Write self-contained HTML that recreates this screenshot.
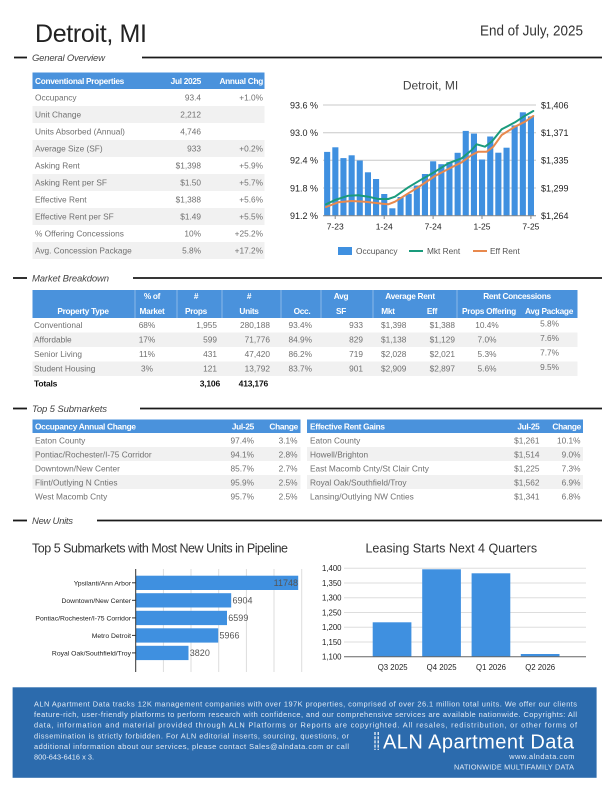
<!DOCTYPE html>
<html><head><meta charset="utf-8"><style>
html,body{margin:0;padding:0;background:#fff;}
svg{display:block;}
text{font-family:"Liberation Sans",sans-serif;}
.sec{font-style:italic;font-size:9.5px;fill:#444;}
.th{font-weight:bold;font-size:8.3px;fill:#fff;letter-spacing:-0.3px;}
.td{font-size:8.3px;fill:#707070;}
.ax{font-size:9px;fill:#222;}
.lg{font-size:8.3px;fill:#555;}
.ft{font-size:7.4px;fill:#e4ecf6;}
</style></head><body>
<svg width="612" height="792" viewBox="0 0 612 792" xmlns="http://www.w3.org/2000/svg">
<rect width="612" height="792" fill="#fff"/>

<!-- Header -->
<text x="35" y="42" font-size="25" fill="#222" textLength="112">Detroit, MI</text>
<text x="480" y="35.5" font-size="15" fill="#333" textLength="103" lengthAdjust="spacingAndGlyphs">End of July, 2025</text>

<!-- Section: General Overview -->
<line x1="14" y1="57.5" x2="27" y2="57.5" stroke="#1a1a1a" stroke-width="1.8"/>
<text class="sec" x="32" y="61" textLength="73">General Overview</text>
<line x1="142" y1="57.5" x2="602" y2="57.5" stroke="#1a1a1a" stroke-width="1.8"/>

<!-- General overview table -->
<rect x="32.5" y="72.5" width="232" height="16.5" fill="#4a92dc"/>
<text class="th" x="35" y="83.8">Conventional Properties</text>
<text class="th" x="201" y="83.8" text-anchor="end">Jul 2025</text>
<text class="th" x="263" y="83.8" text-anchor="end">Annual Chg</text>
<rect x="32.5" y="106" width="232" height="17" fill="#f1f1f1"/>
<rect x="32.5" y="140" width="232" height="17" fill="#f1f1f1"/>
<rect x="32.5" y="174" width="232" height="17" fill="#f1f1f1"/>
<rect x="32.5" y="208" width="232" height="17" fill="#f1f1f1"/>
<rect x="32.5" y="242" width="232" height="17" fill="#f1f1f1"/>
<g class="td">
<text x="35" y="100.5">Occupancy</text><text x="201" y="100.5" text-anchor="end">93.4</text><text x="263" y="100.5" text-anchor="end">+1.0%</text>
<text x="35" y="117.5">Unit Change</text><text x="201" y="117.5" text-anchor="end">2,212</text>
<text x="35" y="134.5">Units Absorbed (Annual)</text><text x="201" y="134.5" text-anchor="end">4,746</text>
<text x="35" y="151.5">Average Size (SF)</text><text x="201" y="151.5" text-anchor="end">933</text><text x="263" y="151.5" text-anchor="end">+0.2%</text>
<text x="35" y="168.5">Asking Rent</text><text x="201" y="168.5" text-anchor="end">$1,398</text><text x="263" y="168.5" text-anchor="end">+5.9%</text>
<text x="35" y="185.5">Asking Rent per SF</text><text x="201" y="185.5" text-anchor="end">$1.50</text><text x="263" y="185.5" text-anchor="end">+5.7%</text>
<text x="35" y="202.5">Effective Rent</text><text x="201" y="202.5" text-anchor="end">$1,388</text><text x="263" y="202.5" text-anchor="end">+5.6%</text>
<text x="35" y="219.5">Effective Rent per SF</text><text x="201" y="219.5" text-anchor="end">$1.49</text><text x="263" y="219.5" text-anchor="end">+5.5%</text>
<text x="35" y="236.5">% Offering Concessions</text><text x="201" y="236.5" text-anchor="end">10%</text><text x="263" y="236.5" text-anchor="end">+25.2%</text>
<text x="35" y="253.5">Avg. Concession Package</text><text x="201" y="253.5" text-anchor="end">5.8%</text><text x="263" y="253.5" text-anchor="end">+17.2%</text>
</g>

<!-- Chart 1 -->
<text x="430.5" y="89.3" font-size="12" fill="#444" text-anchor="middle">Detroit, MI</text>
<g stroke="#c8c8c8" stroke-width="1">
<line x1="323" y1="105" x2="536" y2="105"/>
<line x1="323" y1="132.7" x2="536" y2="132.7"/>
<line x1="323" y1="160.3" x2="536" y2="160.3"/>
<line x1="323" y1="188" x2="536" y2="188"/>
</g>
<g fill="#3f90e0">
<rect x="324.1" y="151.9" width="6.1" height="63.8"/>
<rect x="332.3" y="147.3" width="6.1" height="68.4"/>
<rect x="340.4" y="158.1" width="6.1" height="57.6"/>
<rect x="348.6" y="155.3" width="6.1" height="60.4"/>
<rect x="356.7" y="160.5" width="6.1" height="55.2"/>
<rect x="364.9" y="172.3" width="6.1" height="43.4"/>
<rect x="373.0" y="179" width="6.1" height="36.7"/>
<rect x="381.2" y="194" width="6.1" height="21.7"/>
<rect x="389.3" y="208.3" width="6.1" height="7.4"/>
<rect x="397.5" y="197" width="6.1" height="18.7"/>
<rect x="405.6" y="193.9" width="6.1" height="21.8"/>
<rect x="413.8" y="185.5" width="6.1" height="30.2"/>
<rect x="421.9" y="174" width="6.1" height="41.7"/>
<rect x="430.1" y="161.3" width="6.1" height="54.4"/>
<rect x="438.3" y="164.2" width="6.1" height="51.5"/>
<rect x="446.4" y="162.2" width="6.1" height="53.5"/>
<rect x="454.6" y="152.8" width="6.1" height="62.9"/>
<rect x="462.7" y="130.9" width="6.1" height="84.8"/>
<rect x="470.9" y="133.6" width="6.1" height="82.1"/>
<rect x="479.0" y="159.5" width="6.1" height="56.2"/>
<rect x="487.2" y="136.5" width="6.1" height="79.2"/>
<rect x="495.3" y="152.7" width="6.1" height="63"/>
<rect x="503.5" y="147.7" width="6.1" height="68"/>
<rect x="511.6" y="125.4" width="6.1" height="90.3"/>
<rect x="519.8" y="112.3" width="6.1" height="103.4"/>
<rect x="527.9" y="116.4" width="6.1" height="99.3"/>
</g>
<line x1="323" y1="215.7" x2="536" y2="215.7" stroke="#888" stroke-width="1"/>
<g stroke="#888" stroke-width="1">
<line x1="335.2" y1="215.7" x2="335.2" y2="219"/>
<line x1="384.2" y1="215.7" x2="384.2" y2="219"/>
<line x1="433.1" y1="215.7" x2="433.1" y2="219"/>
<line x1="482" y1="215.7" x2="482" y2="219"/>
<line x1="530.9" y1="215.7" x2="530.9" y2="219"/>
</g>
<polyline fill="none" stroke="#e8894d" stroke-width="2" stroke-linejoin="round" stroke-linecap="round" points="326,207 338.3,202.3 351.7,201 365,201.7 378.3,203.3 388.3,204.3 395,201.7 408.3,193.3 421.7,185 435,176 448.3,169 461.7,162.3 471.7,155 478.3,151.7 486.7,151.7 493.3,146.7 501.7,135 515,126.7 525,121.7 533.3,116"/>
<polyline fill="none" stroke="#1a9b7c" stroke-width="2" stroke-linejoin="round" stroke-linecap="round" points="326,204.3 335,200 348.3,195.7 358.3,195.3 368.3,196.7 378.3,199 388.3,199 395,196.7 408.3,187.3 421.7,179.3 435,171.7 448.3,163.3 461.7,158.3 471.7,150 476.7,144.3 485,146.7 491.7,141.7 501.7,129.3 515,122.3 525,115.7 533.3,111"/>
<g class="ax">
<text x="318" y="108.3" text-anchor="end">93.6 %</text>
<text x="318" y="136" text-anchor="end">93.0 %</text>
<text x="318" y="163.6" text-anchor="end">92.4 %</text>
<text x="318" y="191.3" text-anchor="end">91.8 %</text>
<text x="318" y="219" text-anchor="end">91.2 %</text>
<text x="541" y="108.3">$1,406</text>
<text x="541" y="136">$1,371</text>
<text x="541" y="163.6">$1,335</text>
<text x="541" y="191.3">$1,299</text>
<text x="541" y="219">$1,264</text>
<text x="335.2" y="229.5" text-anchor="middle" font-size="8.5">7-23</text>
<text x="384.2" y="229.5" text-anchor="middle" font-size="8.5">1-24</text>
<text x="433.1" y="229.5" text-anchor="middle" font-size="8.5">7-24</text>
<text x="482" y="229.5" text-anchor="middle" font-size="8.5">1-25</text>
<text x="530.9" y="229.5" text-anchor="middle" font-size="8.5">7-25</text>
</g>
<rect x="338" y="247" width="14" height="8" fill="#3f90e0"/>
<text class="lg" x="356" y="254">Occupancy</text>
<line x1="409" y1="251" x2="423" y2="251" stroke="#1a9b7c" stroke-width="2"/>
<text class="lg" x="427" y="254">Mkt Rent</text>
<line x1="473" y1="251" x2="487" y2="251" stroke="#e8894d" stroke-width="2"/>
<text class="lg" x="490" y="254">Eff Rent</text>

<!-- Section: Market Breakdown -->
<line x1="13" y1="278" x2="27" y2="278" stroke="#1a1a1a" stroke-width="1.8"/>
<text class="sec" x="32" y="281.5" textLength="77">Market Breakdown</text>
<line x1="133" y1="278" x2="602" y2="278" stroke="#1a1a1a" stroke-width="1.8"/>

<rect x="32.5" y="290" width="545" height="28" fill="#4a92dc"/>
<g stroke="#ffffff" stroke-opacity="0.35" stroke-width="1">
<line x1="135" y1="290" x2="135" y2="318"/>
<line x1="177" y1="290" x2="177" y2="318"/>
<line x1="222" y1="290" x2="222" y2="318"/>
<line x1="281" y1="290" x2="281" y2="318"/>
<line x1="321" y1="290" x2="321" y2="318"/>
<line x1="373" y1="290" x2="373" y2="318"/>
<line x1="457" y1="290" x2="457" y2="318"/>
</g>
<g class="th" text-anchor="middle">
<text x="152" y="299">% of</text>
<text x="196" y="299">#</text>
<text x="249" y="299">#</text>
<text x="341" y="299">Avg</text>
<text x="410" y="299">Average Rent</text>
<text x="517" y="299">Rent Concessions</text>
<text x="83" y="314">Property Type</text>
<text x="152" y="314">Market</text>
<text x="196" y="314">Props</text>
<text x="249" y="314">Units</text>
<text x="302" y="314">Occ.</text>
<text x="341" y="314">SF</text>
<text x="388" y="314">Mkt</text>
<text x="432" y="314">Eff</text>
<text x="489" y="314">Props Offering</text>
<text x="549" y="314">Avg Package</text>
</g>
<rect x="32.5" y="332.5" width="545" height="14.5" fill="#f1f1f1"/>
<rect x="32.5" y="361.5" width="545" height="14.5" fill="#f1f1f1"/>
<g class="td">
<text x="34" y="328">Conventional</text><text x="147" y="328" text-anchor="middle">68%</text><text x="217" y="328" text-anchor="end">1,955</text><text x="270" y="328" text-anchor="end">280,188</text><text x="312" y="328" text-anchor="end">93.4%</text><text x="363" y="328" text-anchor="end">933</text><text x="381" y="328">$1,398</text><text x="455" y="328" text-anchor="end">$1,388</text><text x="487" y="328" text-anchor="middle">10.4%</text><text x="559" y="326.5" text-anchor="end">5.8%</text>
<text x="34" y="342.5">Affordable</text><text x="147" y="342.5" text-anchor="middle">17%</text><text x="217" y="342.5" text-anchor="end">599</text><text x="270" y="342.5" text-anchor="end">71,776</text><text x="312" y="342.5" text-anchor="end">84.9%</text><text x="363" y="342.5" text-anchor="end">829</text><text x="381" y="342.5">$1,138</text><text x="455" y="342.5" text-anchor="end">$1,129</text><text x="487" y="342.5" text-anchor="middle">7.0%</text><text x="559" y="341" text-anchor="end">7.6%</text>
<text x="34" y="357">Senior Living</text><text x="147" y="357" text-anchor="middle">11%</text><text x="217" y="357" text-anchor="end">431</text><text x="270" y="357" text-anchor="end">47,420</text><text x="312" y="357" text-anchor="end">86.2%</text><text x="363" y="357" text-anchor="end">719</text><text x="381" y="357">$2,028</text><text x="455" y="357" text-anchor="end">$2,021</text><text x="487" y="357" text-anchor="middle">5.3%</text><text x="559" y="355.5" text-anchor="end">7.7%</text>
<text x="34" y="371.5">Student Housing</text><text x="147" y="371.5" text-anchor="middle">3%</text><text x="217" y="371.5" text-anchor="end">121</text><text x="270" y="371.5" text-anchor="end">13,792</text><text x="312" y="371.5" text-anchor="end">83.7%</text><text x="363" y="371.5" text-anchor="end">901</text><text x="381" y="371.5">$2,909</text><text x="455" y="371.5" text-anchor="end">$2,897</text><text x="487" y="371.5" text-anchor="middle">5.6%</text><text x="559" y="370" text-anchor="end">9.5%</text>
</g>
<g font-size="8.5" font-weight="bold" fill="#111" letter-spacing="-0.2">
<text x="34" y="386.5">Totals</text>
<text x="220" y="386.5" text-anchor="end">3,106</text>
<text x="268" y="386.5" text-anchor="end">413,176</text>
</g>

<!-- Section: Top 5 Submarkets -->
<line x1="13" y1="408.5" x2="27" y2="408.5" stroke="#1a1a1a" stroke-width="1.8"/>
<text class="sec" x="32" y="412" textLength="75">Top 5 Submarkets</text>
<line x1="140" y1="408.5" x2="602" y2="408.5" stroke="#1a1a1a" stroke-width="1.8"/>

<rect x="32.5" y="419.5" width="268" height="13.5" fill="#4a92dc"/>
<rect x="307" y="419.5" width="276" height="13.5" fill="#4a92dc"/>
<text class="th" x="35" y="429.3">Occupancy Annual Change</text>
<text class="th" x="254" y="429.3" text-anchor="end">Jul-25</text>
<text class="th" x="298" y="429.3" text-anchor="end">Change</text>
<text class="th" x="310" y="429.3">Effective Rent Gains</text>
<text class="th" x="539.5" y="429.3" text-anchor="end">Jul-25</text>
<text class="th" x="581" y="429.3" text-anchor="end">Change</text>
<rect x="32.5" y="447" width="268" height="14" fill="#f1f1f1"/>
<rect x="32.5" y="475" width="268" height="14" fill="#f1f1f1"/>
<rect x="307" y="447" width="276" height="14" fill="#f1f1f1"/>
<rect x="307" y="475" width="276" height="14" fill="#f1f1f1"/>
<g class="td">
<text x="35" y="443.7">Eaton County</text><text x="254" y="443.7" text-anchor="end">97.4%</text><text x="297.5" y="443.7" text-anchor="end">3.1%</text>
<text x="35" y="457.7">Pontiac/Rochester/I-75 Corridor</text><text x="254" y="457.7" text-anchor="end">94.1%</text><text x="297.5" y="457.7" text-anchor="end">2.8%</text>
<text x="35" y="471.7">Downtown/New Center</text><text x="254" y="471.7" text-anchor="end">85.7%</text><text x="297.5" y="471.7" text-anchor="end">2.7%</text>
<text x="35" y="485.7">Flint/Outlying N Cnties</text><text x="254" y="485.7" text-anchor="end">95.9%</text><text x="297.5" y="485.7" text-anchor="end">2.5%</text>
<text x="35" y="499.7">West Macomb Cnty</text><text x="254" y="499.7" text-anchor="end">95.7%</text><text x="297.5" y="499.7" text-anchor="end">2.5%</text>
<text x="310" y="443.7">Eaton County</text><text x="539.5" y="443.7" text-anchor="end">$1,261</text><text x="580.5" y="443.7" text-anchor="end">10.1%</text>
<text x="310" y="457.7">Howell/Brighton</text><text x="539.5" y="457.7" text-anchor="end">$1,514</text><text x="580.5" y="457.7" text-anchor="end">9.0%</text>
<text x="310" y="471.7">East Macomb Cnty/St Clair Cnty</text><text x="539.5" y="471.7" text-anchor="end">$1,225</text><text x="580.5" y="471.7" text-anchor="end">7.3%</text>
<text x="310" y="485.7">Royal Oak/Southfield/Troy</text><text x="539.5" y="485.7" text-anchor="end">$1,562</text><text x="580.5" y="485.7" text-anchor="end">6.9%</text>
<text x="310" y="499.7">Lansing/Outlying NW Cnties</text><text x="539.5" y="499.7" text-anchor="end">$1,341</text><text x="580.5" y="499.7" text-anchor="end">6.8%</text>
</g>

<!-- Section: New Units -->
<line x1="13" y1="520.5" x2="27" y2="520.5" stroke="#1a1a1a" stroke-width="1.8"/>
<text class="sec" x="32" y="524" textLength="41">New Units</text>
<line x1="97" y1="520.5" x2="602" y2="520.5" stroke="#1a1a1a" stroke-width="1.8"/>

<!-- Chart: Top 5 Submarkets pipeline -->
<text x="32" y="552.5" font-size="12.5" fill="#333" textLength="256">Top 5 Submarkets with Most New Units in Pipeline</text>
<g stroke="#dddddd" stroke-width="1">
<line x1="163.4" y1="569" x2="163.4" y2="672"/>
<line x1="191" y1="569" x2="191" y2="672"/>
<line x1="218.7" y1="569" x2="218.7" y2="672"/>
<line x1="246.4" y1="569" x2="246.4" y2="672"/>
<line x1="274" y1="569" x2="274" y2="672"/>
<line x1="301.7" y1="569" x2="301.7" y2="672"/>
</g>
<g fill="#3f90e0">
<rect x="136" y="575.7" width="162.2" height="14.3"/>
<rect x="136" y="593.2" width="95.2" height="14.3"/>
<rect x="136" y="610.8" width="91" height="14.3"/>
<rect x="136" y="628.3" width="82.2" height="14.3"/>
<rect x="136" y="645.8" width="52.5" height="14.3"/>
</g>
<line x1="135.7" y1="569" x2="135.7" y2="672" stroke="#333" stroke-width="1"/>
<g stroke="#333" stroke-width="1">
<line x1="132" y1="582.8" x2="135.7" y2="582.8"/>
<line x1="132" y1="600.3" x2="135.7" y2="600.3"/>
<line x1="132" y1="617.9" x2="135.7" y2="617.9"/>
<line x1="132" y1="635.4" x2="135.7" y2="635.4"/>
<line x1="132" y1="652.9" x2="135.7" y2="652.9"/>
</g>
<g font-size="6.8" fill="#222" text-anchor="end">
<text x="131" y="585.3">Ypsilanti/Ann Arbor</text>
<text x="131" y="602.8">Downtown/New Center</text>
<text x="131" y="620.4">Pontiac/Rochester/I-75 Corridor</text>
<text x="131" y="637.9">Metro Detroit</text>
<text x="131" y="655.4">Royal Oak/Southfield/Troy</text>
</g>
<g font-size="9" fill="#555">
<text x="298" y="586" text-anchor="end">11748</text>
<text x="232.5" y="603.5">6904</text>
<text x="228.3" y="621.1">6599</text>
<text x="219.5" y="638.6">5966</text>
<text x="189.8" y="656.1">3820</text>
</g>

<!-- Chart: Leasing Starts -->
<text x="451.3" y="552.5" font-size="12.5" fill="#333" text-anchor="middle">Leasing Starts Next 4 Quarters</text>
<g stroke="#dddddd" stroke-width="1">
<line x1="344" y1="568.3" x2="586" y2="568.3"/>
<line x1="344" y1="583" x2="586" y2="583"/>
<line x1="344" y1="597.7" x2="586" y2="597.7"/>
<line x1="344" y1="612.5" x2="586" y2="612.5"/>
<line x1="344" y1="627.2" x2="586" y2="627.2"/>
<line x1="344" y1="642" x2="586" y2="642"/>
</g>
<g fill="#3f90e0">
<rect x="372.7" y="622.3" width="38.7" height="34.4"/>
<rect x="422.2" y="569.3" width="38.7" height="87.4"/>
<rect x="471.6" y="573.3" width="38.7" height="83.4"/>
<rect x="520.8" y="654" width="38.7" height="2.7"/>
</g>
<line x1="344" y1="656.7" x2="586" y2="656.7" stroke="#666" stroke-width="1"/>
<g font-size="7.8" fill="#222" text-anchor="end">
<text x="341.5" y="571.2">1,400</text>
<text x="341.5" y="585.9">1,350</text>
<text x="341.5" y="600.6">1,300</text>
<text x="341.5" y="615.4">1,250</text>
<text x="341.5" y="630.1">1,200</text>
<text x="341.5" y="644.9">1,150</text>
<text x="341.5" y="659.6">1,100</text>
</g>
<g font-size="7.8" fill="#222" text-anchor="middle">
<text x="392.7" y="669.8">Q3 2025</text>
<text x="441.6" y="669.8">Q4 2025</text>
<text x="491" y="669.8">Q1 2026</text>
<text x="540.2" y="669.8">Q2 2026</text>
</g>

<!-- Footer -->
<rect x="12.6" y="687.3" width="584" height="90.5" fill="#2c6bad"/>
<g class="ft">
<text x="34" y="706.5" textLength="543">ALN Apartment Data tracks 12K management companies with over 197K properties, comprised of over 26.1 million total units. We offer our clients</text>
<text x="34" y="717" textLength="543">feature-rich, user-friendly platforms to perform research with confidence, and our comprehensive services are available nationwide. Copyrights: All</text>
<text x="34" y="727.5" textLength="543">data, information and material provided through ALN Platforms or Reports are copyrighted. All resales, redistribution, or other forms of</text>
<text x="34" y="738.5" textLength="315">dissemination is strictly forbidden. For ALN editorial inserts, sourcing, questions, or</text>
<text x="34" y="749" textLength="315">additional information about our services, please contact Sales@alndata.com or call</text>
<text x="34" y="759.5">800-643-6416 x 3.</text>
</g>
<g stroke="#ffffff" stroke-width="1.2" stroke-dasharray="3,1.2">
<line x1="375" y1="732" x2="375" y2="750"/>
<line x1="378.2" y1="732" x2="378.2" y2="750"/>
</g>
<text x="383" y="748.3" font-size="20" fill="#ffffff" textLength="191">ALN Apartment Data</text>
<text x="509.3" y="759" font-size="7.3" fill="#e4ecf6" textLength="65">www.alndata.com</text>
<text x="454" y="769.5" font-size="7.3" fill="#e4ecf6" textLength="120">NATIONWIDE MULTIFAMILY DATA</text>
</svg>
</body></html>
